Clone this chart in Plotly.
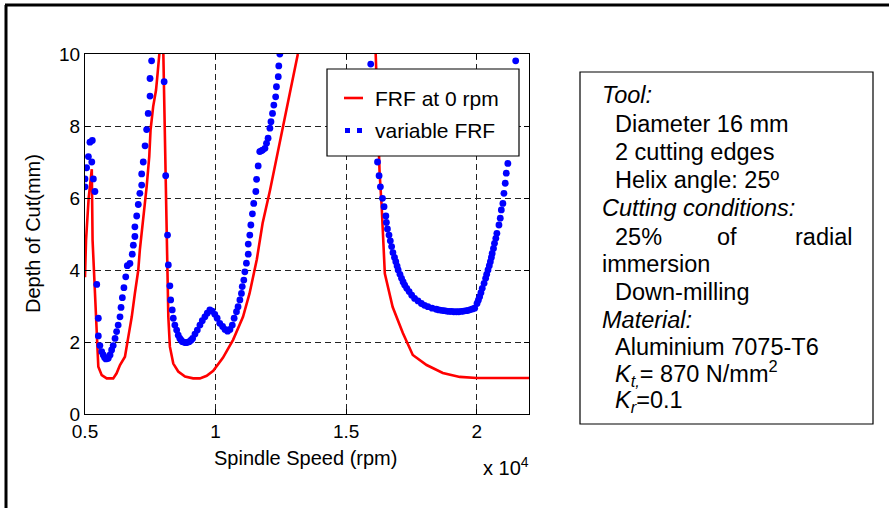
import plotly.graph_objects as go

# ---------------- data (spindle speed in units of 10^4 rpm, depth in mm) ----------------
red_x = [0.500, 0.504, 0.514, 0.526, 0.529, 0.545, 0.551, 0.564, 0.583, 0.608, 0.621,
         0.634, 0.653, 0.666, 0.679, 0.691, 0.704, 0.710, 0.717, 0.730, 0.736, 0.746, 0.751,
         0.761, 0.772, 0.778, 0.784, 0.792, 0.800, 0.803, 0.809, 0.813, 0.819, 0.825, 0.838,
         0.857, 0.883, 0.914, 0.940, 0.966, 0.991, 1.028, 1.067, 1.105, 1.130, 1.158, 1.180,
         1.208, 1.234, 1.257, 1.284, 1.315, None, 1.613, 1.628, 1.636, 1.648, 1.678, 1.717,
         1.755, 1.808, 1.870, 1.935, 2.000, 2.100, 2.200]
red_y = [3.80, 4.83, 6.00, 6.80, 4.83, 1.97, 1.31, 1.08, 0.99, 0.99, 1.13,
         1.36, 1.59, 2.15, 2.70, 3.35, 4.00, 4.56, 5.02, 5.76, 6.31, 7.15, 7.89,
         8.54, 9.00, 9.46, 9.99, 10.6, 10.0, 8.72, 6.87, 5.02, 2.70, 1.87, 1.40,
         1.18, 1.04, 0.99, 0.99, 1.06, 1.20, 1.56, 2.06, 2.70, 3.35, 4.30, 5.30,
         6.20, 7.15, 7.90, 8.90, 10.0, None, 10.0, 6.70, 5.75, 3.90, 2.97, 2.25,
         1.64, 1.36, 1.14, 1.03, 1.00, 1.00, 1.00]

blue_x = [0.500, 0.500, 0.506, 0.513, 0.519, 0.528, 0.526, 0.532, 0.538,
          0.545, 0.551, 0.551, 0.557, 0.564, 0.570, 0.575, 0.580, 0.585, 0.589, 0.596, 0.602,
          0.608, 0.615, 0.621, 0.627, 0.634, 0.638, 0.643, 0.649, 0.656, 0.662, 0.672, 0.681,
          0.685, 0.691, 0.691, 0.698, 0.704, 0.710, 0.717, 0.717, 0.723, 0.730, 0.736, 0.742,
          0.749, 0.749, 0.755,
          0.803, 0.809, 0.816, 0.819, 0.825, 0.828, 0.834, 0.838, 0.844, 0.851, 0.857, 0.863,
          0.868, 0.873, 0.880, 0.886, 0.893, 0.899, 0.906, 0.912, 0.921, 0.930, 0.940, 0.949,
          0.959, 0.968, 0.978, 0.987, 0.997, 1.006, 1.016, 1.027, 1.036, 1.046, 1.055, 1.064,
          1.071, 1.080, 1.086, 1.093, 1.099, 1.102, 1.108, 1.112, 1.118, 1.125, 1.125, 1.131,
          1.135, 1.141, 1.146, 1.154, 1.157, 1.163, 1.169, 1.175, 1.180, 1.189, 1.195, 1.201,
          1.208, 1.212, 1.218, 1.223, 1.230, 1.233, 1.240, 1.242, 1.246,
          1.594, 1.600, 1.606, 1.613, 1.620, 1.626, 1.631, 1.639, 1.645, 1.652, 1.654, 1.658,
          1.664, 1.669, 1.674, 1.679, 1.685, 1.690, 1.695, 1.699, 1.706, 1.712, 1.718, 1.724,
          1.732, 1.741, 1.751, 1.762, 1.775, 1.788, 1.800, 1.813, 1.829, 1.845, 1.855, 1.865,
          1.875, 1.884, 1.894, 1.903, 1.912, 1.922, 1.931, 1.941, 1.950, 1.960, 1.968, 1.976,
          1.984, 1.992, 2.001, 2.006, 2.011, 2.016, 2.021, 2.028, 2.034, 2.038, 2.043, 2.048,
          2.052, 2.056, 2.059, 2.064, 2.068, 2.073, 2.077, 2.085, 2.090, 2.094, 2.100, 2.104,
          2.109, 2.113, 2.119, 2.149]
blue_y = [6.31, 6.53, 6.84, 7.15, 7.55, 7.60, 7.00, 6.53, 6.18,
          3.60, 2.66, 2.17, 1.90, 1.73, 1.64, 1.57, 1.53, 1.54, 1.55, 1.64, 1.78,
          1.90, 2.10, 2.29, 2.47, 2.70, 2.96, 3.23, 3.51, 3.81, 4.12, 4.18, 4.44,
          4.69, 4.93, 5.20, 5.50, 5.82, 6.13, 6.36, 6.67, 7.00, 7.45, 7.90, 8.35,
          8.83, 9.32, 9.81,
          9.23, 6.62, 4.97, 4.14, 3.56, 3.17, 2.89, 2.66, 2.47, 2.33, 2.19, 2.10,
          2.05, 2.01, 1.99, 1.98, 1.99, 2.01, 2.05, 2.10, 2.22, 2.33, 2.47, 2.59,
          2.70, 2.80, 2.89, 2.86, 2.77, 2.66, 2.52, 2.43, 2.35, 2.30, 2.35, 2.47,
          2.66, 2.84, 2.98, 3.17, 3.35, 3.54, 3.72, 3.95, 4.19, 4.44, 4.72, 4.97,
          5.25, 5.56, 5.85, 6.18, 6.52, 6.89, 7.29, 7.31, 7.33, 7.38, 7.52, 7.66,
          7.94, 8.12, 8.35, 8.58, 8.81, 9.09, 9.37, 9.67, 10.0,
          9.72, 9.00, 8.30, 7.60, 7.00, 6.62, 6.31, 5.99, 5.76, 5.50, 5.32, 5.14,
          4.97, 4.81, 4.65, 4.48, 4.35, 4.23, 4.11, 4.00, 3.88, 3.77, 3.67, 3.58,
          3.49, 3.40, 3.30, 3.21, 3.14, 3.07, 3.02, 2.98, 2.94, 2.91, 2.89, 2.88,
          2.87, 2.86, 2.85, 2.85, 2.84, 2.84, 2.84, 2.85, 2.86, 2.87, 2.88, 2.90,
          2.92, 2.94, 3.07, 3.16, 3.26, 3.37, 3.49, 3.63, 3.77, 3.88, 4.00, 4.12,
          4.23, 4.35, 4.46, 4.60, 4.74, 4.88, 5.02, 5.25, 5.44, 5.67, 5.85, 6.13,
          6.41, 6.69, 6.96, 9.81]

series_names = ["FRF at 0 rpm", "variable FRF"]

x_ticks = [0.5, 1, 1.5, 2]
x_tick_labels = ["0.5", "1", "1.5", "2"]
y_ticks = [0, 2, 4, 6, 8, 10]

info_lines = [
    ("<i>Tool:</i>", 0),
    ("Diameter 16 mm", 1),
    ("2 cutting edges", 1),
    ("Helix angle: 25º", 1),
    ("<i>Cutting conditions:</i>", 0),
    ("25%", 1),
    ("immersion", 0),
    ("Down-milling", 1),
    ("<i>Material:</i>", 0),
    ("Aluminium 7075-T6", 1),
    ("<i>K</i><sub><i>t,</i></sub>= 870 N/mm<sup>2</sup>", 1),
    ("<i>K</i><sub><i>r</i></sub>=0.1", 1),
]

FONT = "Liberation Sans, Arial, Helvetica, sans-serif"
RED, BLUE = "#ff0000", "#0000ff"
W, H = 889, 508
L, R, T, B = 85, 360, 54, 94
PW, PH = W - L - R, H - T - B


def px(xp):
    return (xp - L) / PW


def py(yp):
    return (H - B - yp) / PH


fig = go.Figure()
fig.add_trace(go.Scatter(x=red_x, y=red_y, mode="lines", name=series_names[0],
                         line=dict(color=RED, width=2.6), connectgaps=False))
fig.add_trace(go.Scatter(x=blue_x, y=blue_y, mode="markers", name=series_names[1],
                         marker=dict(color=BLUE, size=6.8, line=dict(width=0))))

axis_common = dict(showline=True, linecolor="black", linewidth=1.2, mirror="ticks",
                   ticks="inside", ticklen=5, tickcolor="black",
                   showgrid=True, gridcolor="#222222", gridwidth=1, griddash="6px,4px",
                   zeroline=False, tickfont=dict(family=FONT, size=19, color="black"))

fig.update_xaxes(range=[0.5, 2.2], tickvals=x_ticks, ticktext=x_tick_labels, **axis_common)
fig.update_yaxes(range=[0, 10], tickvals=y_ticks, **axis_common)

annotations = [
    dict(text="Spindle Speed (rpm)", x=px(305), y=py(458), xref="paper", yref="paper",
         showarrow=False, font=dict(family=FONT, size=20, color="black"),
         xanchor="center", yanchor="middle"),
    dict(text="Depth of Cut(mm)", x=px(33), y=py(234), xref="paper", yref="paper",
         showarrow=False, textangle=-90, font=dict(family=FONT, size=20, color="black"),
         xanchor="center", yanchor="middle"),
    dict(text="x 10<sup>4</sup>", x=px(481), y=py(466), xref="paper", yref="paper",
         showarrow=False, font=dict(family=FONT, size=20, color="black"),
         xanchor="left", yanchor="middle"),
]

# legend texts (legend drawn as a boxed key, MATLAB style)
for name, yy in zip(series_names, [98, 130]):
    annotations.append(dict(text=name, x=px(373), y=py(yy), xref="paper", yref="paper",
                            showarrow=False, font=dict(family=FONT, size=21, color="black"),
                            xanchor="left", yanchor="middle"))

BOXFONT = 23.5
line_y = [95, 124, 152, 180, 208, 237, 264, 292, 320, 347, 373, 401]
for (txt, indent), yy in zip(info_lines, line_y):
    annotations.append(dict(text=txt, x=px(600 if indent == 0 else 613), y=py(yy),
                            xref="paper", yref="paper", showarrow=False,
                            font=dict(family=FONT, size=BOXFONT, color="black"),
                            xanchor="left", yanchor="middle"))
# justified remainder of the "25% of radial" line
annotations.append(dict(text="of", x=px(727), y=py(237), xref="paper", yref="paper",
                        showarrow=False, font=dict(family=FONT, size=BOXFONT, color="black"),
                        xanchor="center", yanchor="middle"))
annotations.append(dict(text="radial", x=px(854), y=py(237), xref="paper", yref="paper",
                        showarrow=False, font=dict(family=FONT, size=BOXFONT, color="black"),
                        xanchor="right", yanchor="middle"))

shapes = [
    # legend box
    dict(type="rect", xref="paper", yref="paper", x0=px(327), x1=px(519), y0=py(156), y1=py(69),
         line=dict(color="black", width=1.2), fillcolor="white", layer="above"),
    # legend key: red line
    dict(type="line", xref="paper", yref="paper", x0=px(344), x1=px(363), y0=py(98), y1=py(98),
         line=dict(color=RED, width=2.6), layer="above"),
    # legend key: two blue dots
    dict(type="rect", xref="paper", yref="paper", x0=px(345), x1=px(350), y0=py(133), y1=py(128),
         line=dict(width=0), fillcolor=BLUE, layer="above"),
    dict(type="rect", xref="paper", yref="paper", x0=px(357), x1=px(362), y0=py(133), y1=py(128),
         line=dict(width=0), fillcolor=BLUE, layer="above"),
    # info box
    dict(type="rect", xref="paper", yref="paper", x0=px(580), x1=px(873), y0=py(424), y1=py(72),
         line=dict(color="black", width=1.2), fillcolor="rgba(0,0,0,0)"),
    # outer frame (left and top edges)
    dict(type="line", xref="paper", yref="paper", x0=px(6), x1=px(6), y0=py(5), y1=py(520),
         line=dict(color="black", width=3)),
    dict(type="line", xref="paper", yref="paper", x0=px(5), x1=px(900), y0=py(5), y1=py(5),
         line=dict(color="black", width=3)),
]

fig.update_layout(
    width=W, height=H,
    margin=dict(l=L, r=R, t=T, b=B, autoexpand=False),
    paper_bgcolor="white", plot_bgcolor="white",
    font=dict(family=FONT, color="black"),
    showlegend=False,
    annotations=annotations,
    shapes=shapes,
)

fig.write_html("out.html", config={"displayModeBar": False},
               post_script="document.body.style.margin='0';")
